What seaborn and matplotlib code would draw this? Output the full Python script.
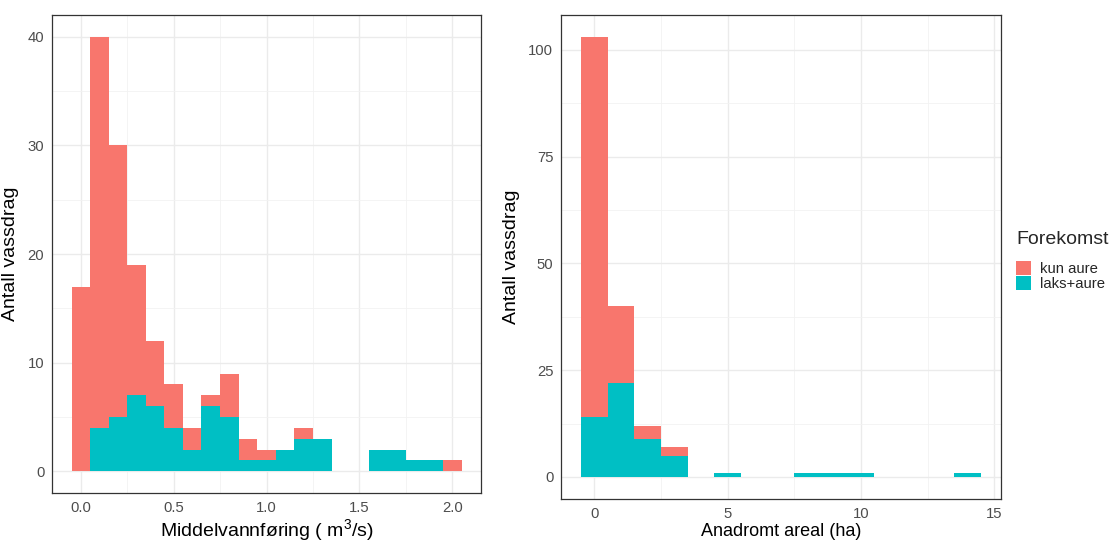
import numpy as np
import pandas as pd
import matplotlib
matplotlib.use("Agg")
import matplotlib.pyplot as plt
import seaborn as sns
from matplotlib.patches import Patch
from matplotlib.ticker import MultipleLocator, FormatStrFormatter

# ---- data ----
groups = ["kun aure", "laks+aure"]
colors = ["#F8766D", "#00BFC4"]

# Left: Middelvannføring (m3/s), bins of width 0.1 centred on these values
flow_centers = [0.0, 0.1, 0.2, 0.3, 0.4, 0.5, 0.6, 0.7, 0.8, 0.9, 1.0,
                1.1, 1.2, 1.3, 1.4, 1.5, 1.6, 1.7, 1.8, 1.9, 2.0]
flow_kun = [17, 36, 25, 12, 6, 4, 2, 1, 4, 2, 1, 0, 1, 0, 0, 0, 0, 0, 0, 0, 1]
flow_laks = [0, 4, 5, 7, 6, 4, 2, 6, 5, 1, 1, 2, 3, 3, 0, 0, 2, 2, 1, 1, 0]

# Right: Anadromt areal (ha), bins of width 1
area_centers = [0, 1, 2, 3, 4, 5, 6, 7, 8, 9, 10, 11, 12, 13, 14]
area_kun = [89, 18, 3, 2, 0, 0, 0, 0, 0, 0, 0, 0, 0, 0, 0]
area_laks = [14, 22, 9, 5, 0, 1, 0, 0, 1, 1, 1, 0, 0, 0, 1]


def long_df(centers, kun, laks):
    return pd.DataFrame({
        "x": list(centers) * 2,
        "n": list(kun) + list(laks),
        "Forekomst": [groups[0]] * len(centers) + [groups[1]] * len(centers),
    })


df_flow = long_df(flow_centers, flow_kun, flow_laks)
df_area = long_df(area_centers, area_kun, area_laks)

sns.set_theme(style="white")
plt.rcParams["font.family"] = ["Liberation Sans", "DejaVu Sans"]
plt.rcParams["mathtext.fontset"] = "custom"
plt.rcParams["mathtext.rm"] = "Liberation Sans"
plt.rcParams["mathtext.it"] = "Liberation Sans"
plt.rcParams["mathtext.default"] = "regular"

W, H = 1112, 542
R_BOTTOM = 499
fig = plt.figure(figsize=(W / 100, H / 100), dpi=100)
ax1 = fig.add_axes([52 / W, 1 - 493 / H, (481 - 52) / W, (493 - 15) / H])
ax2 = fig.add_axes([561 / W, 1 - R_BOTTOM / H, (1001 - 561) / W, (R_BOTTOM - 15) / H])

pal = dict(zip(groups, colors))

sns.histplot(data=df_flow, x="x", weights="n", hue="Forekomst", hue_order=groups,
             palette=pal, multiple="stack", binwidth=0.1, binrange=(-0.05, 2.05),
             element="bars", alpha=1, edgecolor="none", linewidth=0, ax=ax1,
             legend=False)
sns.histplot(data=df_area, x="x", weights="n", hue="Forekomst", hue_order=groups,
             palette=pal, multiple="stack", binwidth=1, binrange=(-0.5, 14.5),
             element="bars", alpha=1, edgecolor="none", linewidth=0, ax=ax2,
             legend=False)


def style(ax, xlim, ylim, xmaj, ymaj, xlabel, ylabel):
    ax.set_xlim(*xlim)
    ax.set_ylim(*ylim)
    ax.xaxis.set_major_locator(MultipleLocator(xmaj))
    ax.xaxis.set_minor_locator(MultipleLocator(xmaj / 2))
    ax.yaxis.set_major_locator(MultipleLocator(ymaj))
    ax.yaxis.set_minor_locator(MultipleLocator(ymaj / 2))
    ax.set_axisbelow(True)
    ax.grid(True, which="major", color="#EBEBEB", linewidth=1.0)
    ax.grid(True, which="minor", color="#F2F2F2", linewidth=0.6)
    for s in ax.spines.values():
        s.set_visible(True)
        s.set_color("#333333")
        s.set_linewidth(0.9)
    ax.tick_params(which="major", direction="out", length=3.5, width=0.8,
                   color="#333333", labelcolor="#4D4D4D", labelsize=10.7, pad=2)
    ax.tick_params(which="minor", length=0)
    ax.set_xlabel(xlabel, fontsize=14, color="black", labelpad=2)
    ax.set_ylabel(ylabel, fontsize=14, color="black", labelpad=6)


style(ax1, (-0.155, 2.155), (-2, 42), 0.5, 10,
      "Middelvannføring ( m$^3$/s)", "Antall vassdrag")
ax1.xaxis.set_major_formatter(FormatStrFormatter("%.1f"))
style(ax2, (-1.25, 15.25), (-5.15, 108.15), 5, 25,
      "Anadromt areal (ha)", "Antall vassdrag")
# keep the lower title fully inside the canvas, below the tick labels
ax2.xaxis.label.set_fontsize(13)
ax2.xaxis.label.set_va("bottom")
ax2.xaxis.set_label_coords(0.5, (1.5 - (H - R_BOTTOM)) / (R_BOTTOM - 15))

handles = [Patch(facecolor=c, edgecolor="none", label=g) for g, c in zip(groups, colors)]
leg = fig.legend(handles=handles, title="Forekomst", loc="upper left",
                 bbox_to_anchor=(1016 / W, 1 - 231 / H), frameon=False,
                 fontsize=10.7, title_fontsize=14, handlelength=1.0,
                 handleheight=1.1, handletextpad=0.6, labelspacing=0.0,
                 borderaxespad=0, borderpad=0)
leg._legend_box.align = "left"
leg._legend_box.sep = 9

fig.savefig("out.png", dpi=100)
